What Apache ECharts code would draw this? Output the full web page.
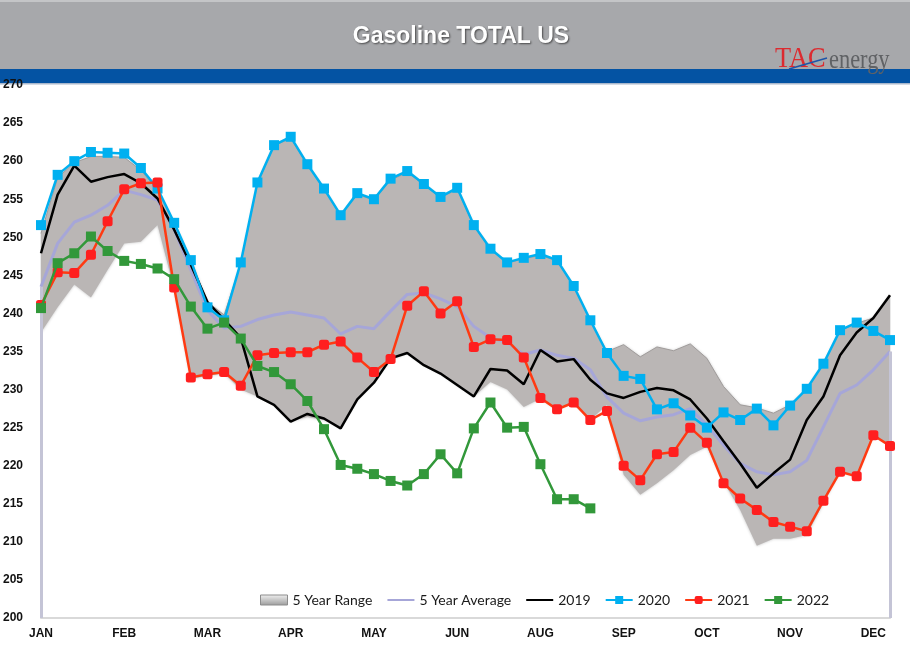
<!DOCTYPE html>
<html>
<head>
<meta charset="utf-8">
<script src="https://cdn.jsdelivr.net/npm/echarts@6/dist/echarts.min.js"></script>
<style>
html,body{margin:0;padding:0;background:#fff;}
#chart{width:910px;height:659px;}
</style>
</head>
<body>
<div id="chart"></div>
<script>
// ---- data ----
const weeks = [1,2,3,4,5,6,7,8,9,10,11,12,13,14,15,16,17,18,19,20,21,22,23,24,25,26,27,28,29,30,31,32,33,34,35,36,37,38,39,40,41,42,43,44,45,46,47,48,49,50,51,52];
const monthTicks = ['JAN','FEB','MAR','APR','MAY','JUN','AUG','SEP','OCT','NOV','DEC'];
const yTicks = [200,205,210,215,220,225,230,235,240,245,250,255,260,265,270];

const rangeLow = [237.5, 240.8, 243.8, 242.1, 245.7, 249.2, 249.4, 251.6, 243.2, 231.4,
  231.8, 232.1, 230.0, 229.1, 228.2, 225.8, 226.4, 226.0, 225.1, 228.7,
  231.1, 233.9, 234.8, 233.2, 232.1, 230.6, 229.1, 231.0, 230.0, 227.7,
  228.8, 227.4, 228.3, 226.0, 228.0, 218.8, 216.2, 217.7, 219.4, 221.4,
  222.5, 217.9, 214.2, 209.5, 210.4, 210.4, 210.9, 215.1, 219.2, 218.6,
  224.1, 222.7];
const rangeHigh = [250.5, 257.8, 259.8, 260.6, 260.6, 260.5, 258.8, 256.2, 251.8, 247.0,
  241.5, 239.8, 246.5, 257.0, 262.0, 263.0, 259.5, 256.3, 252.8, 255.6,
  254.9, 257.5, 258.5, 256.9, 255.2, 256.3, 251.5, 248.4, 246.6, 247.2,
  247.6, 246.9, 243.5, 239.0, 235.0, 235.9, 234.3, 235.6, 235.1, 236.0,
  234.1, 230.4, 228.0, 227.6, 226.9, 228.0, 230.1, 233.4, 237.7, 238.7,
  239.4, 242.4];
const avg5 = [243.5, 249.2, 252.0, 252.9, 254.2, 256.2, 255.6, 254.9, 251.0, 245.7,
  240.4, 238.1, 238.3, 239.2, 239.8, 240.2, 239.8, 239.4, 237.3, 238.3,
  238.0, 240.3, 242.5, 242.7, 241.9, 240.9, 238.3, 236.8, 236.2, 234.6,
  235.2, 234.5, 234.1, 232.6, 229.0, 226.9, 225.9, 226.4, 226.7, 227.5,
  225.3, 222.7, 220.3, 219.2, 218.8, 219.2, 220.7, 225.1, 229.5, 230.6,
  232.6, 235.0];
const y2019 = [247.9, 255.6, 259.4, 257.3, 257.9, 258.3, 257.1, 255.1, 251.0, 246.4,
  241.5, 239.2, 236.8, 229.1, 228.0, 225.8, 226.8, 226.2, 224.9, 228.7,
  230.9, 234.1, 234.8, 233.2, 232.1, 230.6, 229.1, 232.7, 232.5, 230.7,
  235.2, 233.7, 234.0, 231.3, 229.5, 228.9, 229.7, 230.2, 229.9, 228.7,
  226.2, 223.2, 220.3, 217.1, 219.0, 220.8, 226.0, 229.1, 234.5, 237.5,
  239.4, 242.4];
const y2020 = [251.6, 258.2, 260.0, 261.2, 261.1, 261.0, 259.1, 256.4, 251.9, 247.0,
  240.8, 239.1, 246.7, 257.2, 262.1, 263.2, 259.6, 256.4, 252.9, 255.8,
  255.0, 257.7, 258.7, 257.0, 255.3, 256.5, 251.6, 248.5, 246.7, 247.3,
  247.8, 247.0, 243.6, 239.1, 234.8, 231.8, 231.4, 227.4, 228.2, 226.6,
  225.0, 227.0, 226.0, 227.5, 225.3, 227.9, 230.1, 233.4, 237.8, 238.8,
  237.7, 236.5];
const y2021 = [241.1, 245.4, 245.3, 247.7, 252.1, 256.3, 257.1, 257.2, 243.4, 231.6,
  232.0, 232.3, 230.5, 234.5, 234.8, 234.9, 234.9, 235.9, 236.3, 234.2,
  232.3, 234.0, 241.0, 242.9, 240.0, 241.6, 235.6, 236.6, 236.5, 234.2,
  228.9, 227.4, 228.3, 226.0, 227.2, 220.0, 218.1, 221.5, 221.8, 225.0,
  223.0, 217.7, 215.7, 214.2, 212.6, 212.0, 211.4, 215.4, 219.2, 218.6,
  224.0, 222.6];
const y2022 = [240.7, 246.6, 247.9, 250.1, 248.2, 246.9, 246.5, 245.9, 244.5, 240.9,
  238.0, 238.8, 236.7, 233.1, 232.3, 230.7, 228.5, 224.8, 220.1, 219.6,
  218.9, 218.0, 217.4, 218.9, 221.5, 219.0, 224.9, 228.3, 225.0, 225.1,
  220.2, 215.6, 215.6, 214.4];

// ---- chart ----
const rangeSpan = rangeHigh.map((h, i) => +(h - rangeLow[i]).toFixed(2));
const lastIdx = weeks.length - 1;
const chart = echarts.init(document.getElementById('chart'));
const FONT = 'Liberation Sans, Arial, sans-serif';

const option = {
  animation: false,
  backgroundColor: '#ffffff',
  grid: { left: 40, right: 20, top: 85, bottom: 41 },
  graphic: [
    { type: 'rect', shape: { x: 0, y: 0, width: 910, height: 69 }, style: { fill: '#a7a8ab' }, z: -10 },
    { type: 'rect', shape: { x: 0, y: 0, width: 910, height: 2 }, style: { fill: '#c4c5c7' }, z: -9 },
    { type: 'rect', shape: { x: 0, y: 69, width: 910, height: 14 }, style: { fill: '#0453a3' }, z: -9 },
    { type: 'rect', shape: { x: 0, y: 83, width: 910, height: 1.5 }, style: { fill: '#aab8cc' }, z: -9 },
    { type: 'text', x: 461, y: 25, z: 10,
      style: { text: 'Gasoline TOTAL US', fill: '#ffffff', font: 'bold 23px Liberation Sans, Arial, sans-serif',
        textAlign: 'center', textShadowColor: 'rgba(40,40,40,0.75)', textShadowBlur: 2,
        textShadowOffsetX: 1, textShadowOffsetY: 1 } },
    { type: 'text', x: 775, y: 44, scaleX: 0.88, z: 10,
      style: { text: 'TAC', fill: '#dc2a2f', font: '30px Liberation Serif, serif' } },
    { type: 'text', x: 829, y: 47, scaleX: 0.8, z: 10,
      style: { text: 'energy', fill: '#606265', font: '28px Liberation Serif, serif' } },
    { type: 'line', z: 11, shape: { x1: 789, y1: 69, x2: 827, y2: 58 },
      style: { stroke: '#1d55a8', lineWidth: 1.6 } }
  ],
  legend: {
    left: 255, top: 588,
    itemWidth: 27, itemHeight: 10, itemGap: 14,
    textStyle: { fontFamily: 'Lato, sans-serif', fontSize: 14, color: '#1a1a1a' },
    data: [
      { name: '5 Year Range', icon: 'rect',
        itemStyle: { color: { type: 'linear', x: 0, y: 0, x2: 0, y2: 1,
          colorStops: [{ offset: 0, color: '#f2f2f2' }, { offset: 1, color: '#9a9a9a' }] },
          borderColor: '#8c8c8c', borderWidth: 1 } },
      { name: '5 Year Average', itemStyle: { opacity: 0 } },
      { name: '2019', itemStyle: { opacity: 0 } },
      { name: '2020' },
      { name: '2021' },
      { name: '2022' }
    ]
  },
  xAxis: {
    type: 'category', data: weeks, boundaryGap: false,
    axisLine: { lineStyle: { color: '#d9d9d9', width: 2 } },
    axisTick: { show: false },
    splitLine: { show: false },
    axisLabel: {
      interval: 4, margin: 10, color: '#111', fontWeight: 'bold', fontSize: 12, fontFamily: FONT,
      formatter: (v, i) => monthTicks[i / 5] || ''
    }
  },
  yAxis: {
    type: 'value', min: yTicks[0], max: yTicks[yTicks.length - 1], interval: 5,
    axisLine: { show: false }, axisTick: { show: false }, splitLine: { show: false },
    axisLabel: { align: 'left', margin: 38, color: '#111', fontWeight: 'bold', fontSize: 12, fontFamily: FONT }
  },
  series: [
    { name: 'rangeBase', type: 'line', data: rangeLow, stack: 'range', symbol: 'none', silent: true,
      lineStyle: { width: 0, opacity: 0 }, z: 1 },
    { name: '5 Year Range', type: 'line', data: rangeSpan, stack: 'range', symbol: 'none', silent: true,
      lineStyle: { width: 1, color: '#a09c9b' }, itemStyle: { color: '#bab6b5' },
      areaStyle: { color: '#bab6b5', opacity: 1, shadowColor: 'rgba(0,0,0,0.25)', shadowBlur: 3 }, z: 1 },
    { name: '5 Year Average', type: 'line', data: avg5, symbol: 'none',
      lineStyle: { width: 3, color: '#a6a6d8' }, itemStyle: { color: '#a6a6d8' }, z: 2,
      markLine: { symbol: 'none', silent: true, label: { show: false },
        lineStyle: { color: '#c4c4d6', width: 3, type: 'solid' },
        data: [
          [{ coord: [0, yTicks[0]] }, { coord: [0, avg5[0]] }],
          [{ coord: [lastIdx, yTicks[0]] }, { coord: [lastIdx, avg5[lastIdx]] }]
        ] } },
    { name: '2019', type: 'line', data: y2019, symbol: 'none',
      lineStyle: { width: 2.5, color: '#000000' }, itemStyle: { color: '#000000' }, z: 3 },
    { name: '2020', type: 'line', data: y2020, symbol: 'rect', symbolSize: 10,
      lineStyle: { width: 2.5, color: '#00b0f0' }, itemStyle: { color: '#00b0f0' }, z: 4 },
    { name: '2021', type: 'line', data: y2021, symbol: 'roundRect', symbolSize: 10,
      lineStyle: { width: 2.5, color: '#ff3a12' }, itemStyle: { color: '#ff1f1f' }, z: 5 },
    { name: '2022', type: 'line', data: y2022, symbol: 'rect', symbolSize: 10,
      lineStyle: { width: 2.5, color: '#32983a' }, itemStyle: { color: '#32983a' }, z: 6 }
  ]
};
chart.setOption(option);
</script>
</body>
</html>
